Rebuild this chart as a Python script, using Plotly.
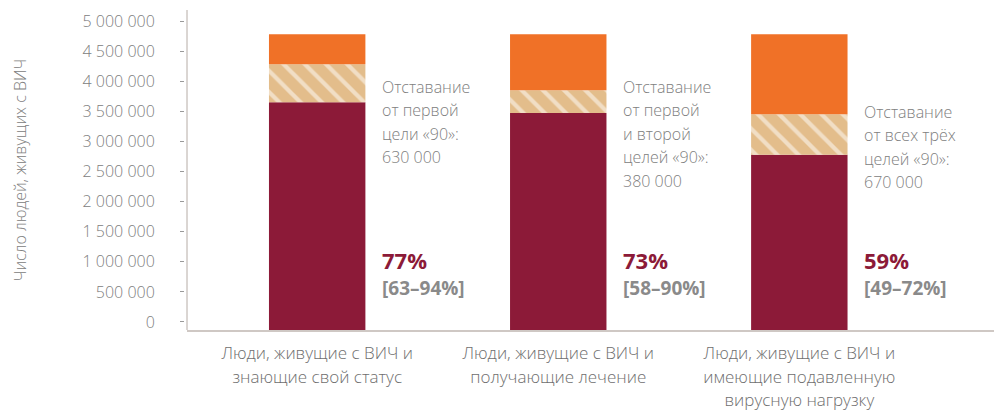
import plotly.graph_objects as go

# cascade: people living with HIV, achievement vs gap to the 90-90-90 targets
categories = [
    ['Люди, живущие с ВИЧ и', 'знающие свой статус'],
    ['Люди, живущие с ВИЧ и', 'получающие лечение'],
    ['Люди, живущие с ВИЧ и', 'имеющие подавленную', 'вирусную нагрузку'],
]
total_plhiv = 4_780_000
achieved = [3_650_000, 3_470_000, 2_780_000]
gap_to_target = [630_000, 380_000, 670_000]
gap_labels = [
    ['Отставание', 'от первой', 'цели «90»:', '630 000'],
    ['Отставание', 'от первой', 'и второй', 'целей «90»:', '380 000'],
    ['Отставание', 'от всех трёх', 'целей «90»:', '670 000'],
]
pct_labels = ['77%', '73%', '59%']
range_labels = ['[63–94%]', '[58–90%]', '[49–72%]']
y_ticks = list(range(0, 5_000_001, 500_000))

MAROON = '#8c1a38'
TAN = '#e3bd8b'
ORANGE = '#f07127'
GREY_TXT = '#808080'
AXIS = '#cfc8c4'
FONT = 'Open Sans'

Y_MIN, Y_MAX = -133_000, 5_183_000
x = list(range(len(categories)))
rest = [total_plhiv - a - g for a, g in zip(achieved, gap_to_target)]
target = [a + g for a, g in zip(achieved, gap_to_target)]


def spaced(lines, px):
    # wrap each line in a smaller span: line spacing follows the (larger) base font
    return '<br>'.join(f'<span style="font-size:{px}px">{s}</span>' for s in lines)


fig = go.Figure()
fig.add_trace(go.Bar(x=x, y=[a - Y_MIN for a in achieved], base=Y_MIN,
                     marker=dict(color=MAROON, line_width=0), width=0.4))
fig.add_trace(go.Bar(x=x, y=gap_to_target, base=achieved, width=0.4,
                     marker=dict(color=TAN, line_width=0,
                                 pattern=dict(shape='\\', fgcolor='white', bgcolor=TAN,
                                              fillmode='overlay', size=15, solidity=0.28))))
fig.add_trace(go.Bar(x=x, y=rest, base=target, width=0.4,
                     marker=dict(color=ORANGE, line_width=0)))

gap_y = [4_117_000, 4_117_000, 3_700_000]
for i in x:
    fig.add_annotation(x=i + 0.262, y=gap_y[i], xref='x', yref='y',
                       text=spaced(gap_labels[i], 16),
                       showarrow=False, xanchor='left', yanchor='top', align='left',
                       font=dict(family=FONT, size=18, color=GREY_TXT, weight=300))
    fig.add_annotation(x=i + 0.262, y=1_030_000, text='<b>' + pct_labels[i] + '</b>',
                       showarrow=False, xanchor='left', yanchor='middle',
                       font=dict(family=FONT, size=22, color=MAROON))
    fig.add_annotation(x=i + 0.262, y=566_000, text='<b>' + range_labels[i] + '</b>',
                       showarrow=False, xanchor='left', yanchor='middle',
                       font=dict(family=FONT, size=19, color='#8a8a8a'))

# vertical axis line, drawn apart from the tick dashes
fig.add_shape(type='line', xref='x domain', yref='y domain', x0=0, x1=0, y0=0, y1=1,
              line=dict(color=AXIS, width=1.5))

fig.update_layout(
    barmode='overlay',
    width=994, height=402,
    margin=dict(l=176, r=5, t=2, b=80),
    paper_bgcolor='white', plot_bgcolor='white',
    showlegend=False,
    font=dict(family=FONT, color=GREY_TXT),
    xaxis=dict(range=[-0.54, 2.82], domain=[0.0037, 1], tickvals=x,
               ticktext=[spaced(c, 17) for c in categories], automargin=False,
               showline=True, linecolor=AXIS, linewidth=1.5, ticks='', showgrid=False,
               ticklabelstandoff=6,
               tickfont=dict(family=FONT, size=18, color='#6e6e6e', weight=300)),
    yaxis=dict(range=[Y_MIN, Y_MAX], tickvals=y_ticks, automargin=False,
               ticktext=[f'{v:,}'.replace(',', ' ') for v in y_ticks],
               anchor='free', position=0, showline=False, showgrid=False, zeroline=False,
               ticks='outside', ticklen=4, tickcolor='#999', tickwidth=1,
               ticklabelstandoff=22,
               tickfont=dict(family=FONT, size=16, color=GREY_TXT, weight=300),
               title=dict(text='Число людей, живущих с ВИЧ', standoff=50,
                          font=dict(family=FONT, size=16, color=GREY_TXT, weight=300))),
)

fig.write_html('out.html')
